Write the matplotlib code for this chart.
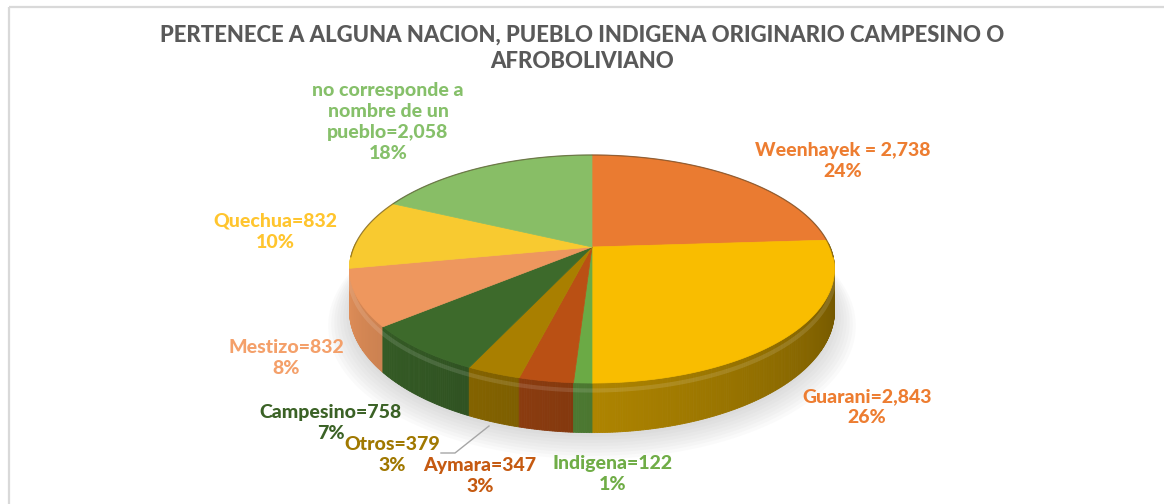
import numpy as np
import matplotlib
matplotlib.use("Agg")
import matplotlib.pyplot as plt
from matplotlib.patches import Polygon, Rectangle
import matplotlib.colors as mcolors

# Data: slice order runs clockwise from 12 o'clock
names = ["Weenhayek", "Guarani", "Indigena", "Aymara", "Otros",
         "Campesino", "Mestizo", "Quechua", "no corresponde a\nnombre de un\npueblo"]
counts = ["2,738", "2,843", "122", "347", "379", "758", "832", "832", "2,058"]
pcts = [24, 26, 1, 3, 3, 7, 8, 10, 18]

top_colors = ["#EA7B31", "#F9BD00", "#6BAA45", "#BA5014", "#A97F00",
              "#3D6A2B", "#EE975E", "#F8CA30", "#88BE66"]
label_colors = ["#ED7D31", "#ED7D31", "#70AD47", "#C55A11", "#A07800",
                "#3B6226", "#F4A06A", "#FFC52E", "#86C06A"]

W, Hpx = 1164, 504
fig = plt.figure(figsize=(W / 100, Hpx / 100), dpi=100)
ax = fig.add_axes([0, 0, 1, 1])
ax.set_xlim(0, W)
ax.set_ylim(Hpx, 0)
ax.axis("off")

FONT = "Lato"
WEIGHT = 900

# chart frame
ax.add_patch(Rectangle((9, 7), W + 20, Hpx + 20, fill=False, ec="#D9D9D9", lw=1.6))

# projection of the tilted disk (pixel coords, y downwards)
X0, Y0 = 592, 247
A, B, E = 238, 109.8, -0.193
DEPTH = 40


def proj(theta_deg, r=1.0, drop=0.0):
    t = np.radians(theta_deg)
    x = r * np.sin(t)
    y = -r * np.cos(t)
    w = 1 + E * y
    return X0 + A * x / w, Y0 + B * y / w + drop * DEPTH / w


def shade(color, f):
    c = np.array(mcolors.to_rgb(color))
    return tuple(np.clip(c * f, 0, 1))


# soft shadow under the pie
ts = np.linspace(0, 360, 200)
for k in range(8):
    px, py = proj(ts, r=1.0 + 0.012 * k, drop=1.0)
    ax.add_patch(Polygon(np.column_stack([px, py + 4 + k]), closed=True,
                         fc="#808080", ec="none", alpha=0.035, zorder=1))

bounds = np.concatenate([[0], np.cumsum(pcts) * 3.6])

# side walls, drawn in thin strips so the shading follows the rim
strips = []
for i in range(len(pcts)):
    a0, a1 = bounds[i], bounds[i + 1]
    n = max(int((a1 - a0) / 0.5), 2)
    tt = np.linspace(a0, a1, n + 1)
    for j in range(n):
        ta, tb = tt[j], tt[j + 1]
        tm = 0.5 * (ta + tb)
        if not (88 <= tm <= 272):
            continue
        xa, ya = proj(ta)
        xb, yb = proj(tb)
        xa2, ya2 = proj(ta, drop=1)
        xb2, yb2 = proj(tb, drop=1)
        f = 0.45 + (tm - 100) / 160 * 0.5
        f = min(max(f, 0.42), 0.97)
        strips.append((ya, [(xa, ya), (xb, yb), (xb2, yb2), (xa2, ya2)],
                       shade(top_colors[i], f)))
strips.sort(key=lambda s: s[0])
for _, pts, col in strips:
    ax.add_patch(Polygon(pts, closed=True, fc=col, ec=col, lw=0.6, zorder=2))

# faint bevel along the upper rim of the front wall
tb_ = np.linspace(95, 265, 200)
bx, by = proj(tb_, drop=0.15)
ax.plot(bx, by, color="white", alpha=0.12, lw=3, zorder=3)

# top faces
for i in range(len(pcts)):
    tt = np.linspace(bounds[i], bounds[i + 1], 80)
    px, py = proj(tt)
    pts = np.vstack([[X0, Y0], np.column_stack([px, py])])
    ax.add_patch(Polygon(pts, closed=True, fc=top_colors[i], ec=top_colors[i],
                         lw=0.5, zorder=4))

# thin dark rim on the back edge
tr = np.linspace(-95, 95, 200)
rx, ry = proj(tr)
ax.plot(rx, ry, color="#4a3a20", alpha=0.55, lw=0.9, zorder=5)

# title
ax.text(582, 35, "PERTENECE A ALGUNA NACION, PUEBLO INDIGENA ORIGINARIO CAMPESINO O",
        ha="center", va="center", fontsize=15.9, fontweight=WEIGHT,
        family=FONT, color="#595959")
ax.text(582, 62, "AFROBOLIVIANO", ha="center", va="center", fontsize=15.9,
        fontweight=WEIGHT, family=FONT, color="#595959")

# data labels
label_pos = [(843, 161), (867, 407), (613, 474), (480, 476), (392, 455),
             (331, 423), (286, 358), (275, 232), (388, 122)]
for i in range(len(pcts)):
    sep = " = " if names[i] == "Weenhayek" else "="
    txt = f"{names[i]}{sep}{counts[i]}\n{pcts[i]}%"
    ax.text(label_pos[i][0], label_pos[i][1], txt, ha="center", va="center",
            fontsize=14, fontweight=WEIGHT, family=FONT,
            color=label_colors[i], linespacing=1.3, zorder=6)

# leader line for Otros
ax.plot([441, 455, 489], [453, 453, 426], color="#A6A6A6", lw=1.0, zorder=5)

fig.savefig("out.png", dpi=100)
